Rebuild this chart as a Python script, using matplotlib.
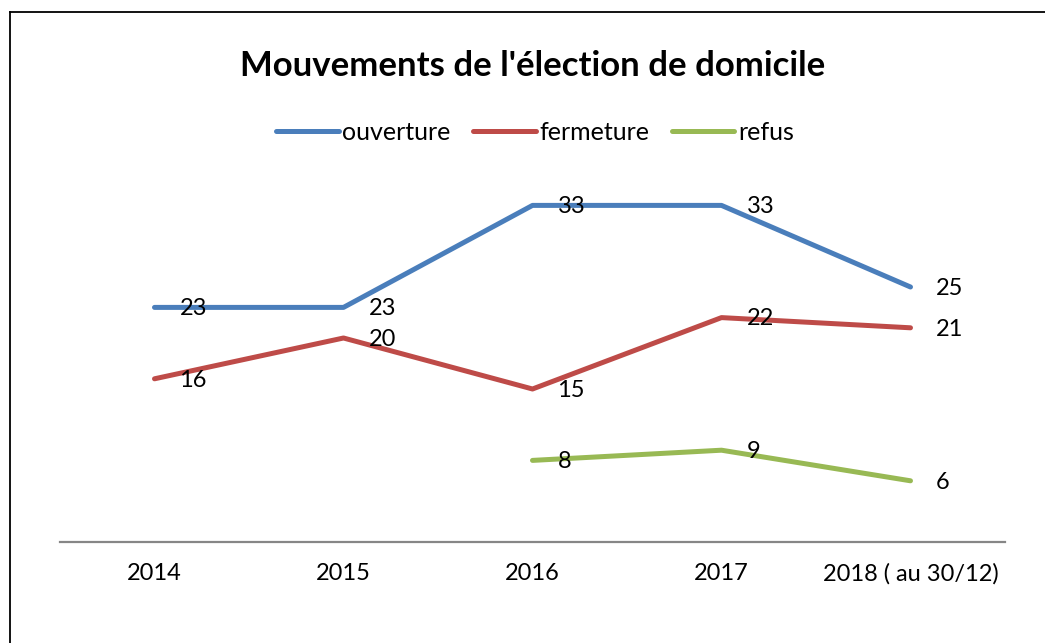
import numpy as np
import matplotlib.pyplot as plt
from matplotlib.lines import Line2D

plt.rcParams['font.family'] = ['Lato', 'DejaVu Sans']

# data
years = ['2014', '2015', '2016', '2017', '2018 ( au 30/12)']
ouverture = [23, 23, 33, 33, 25]
fermeture = [16, 20, 15, 22, 21]
refus = [np.nan, np.nan, 8, 9, 6]

series = [('ouverture', ouverture, '#4A7EBB'),
          ('fermeture', fermeture, '#BE4B48'),
          ('refus', refus, '#98B954')]

W, H = 1045, 643
fig = plt.figure(figsize=(W / 100, H / 100), dpi=100)
ax = fig.add_axes([60 / W, 1 - 542 / H, 945 / W, 357 / H])

x = np.arange(len(years))
for name, vals, col in series:
    ax.plot(x, vals, color=col, lw=3.6, solid_capstyle='round', label=name)
    for xi, v in zip(x, vals):
        if np.isnan(v):
            continue
        ax.annotate(str(v), (xi, v), xytext=(18, -1), textcoords='offset points',
                    ha='left', va='center', fontsize=17, color='black')

ax.set_xlim(-0.5, len(years) - 0.5)
ax.set_ylim(0, 35)
ax.set_xticks(x)
ax.set_xticklabels(years, fontsize=17)
ax.tick_params(axis='x', length=0, pad=15)
ax.set_yticks([])
for s in ['top', 'right', 'left']:
    ax.spines[s].set_visible(False)
ax.spines['bottom'].set_color('#868686')
ax.spines['bottom'].set_linewidth(1.6)

fig.text(0.510, 1 - 66 / H, "Mouvements de l'élection de domicile",
         ha='center', va='center', fontsize=25, fontweight='bold')

handles = [Line2D([0], [0], color=c, lw=3.6, solid_capstyle='round') for _, _, c in series]
fig.legend(handles, [n for n, _, _ in series], loc='center', ncol=3,
           bbox_to_anchor=(0.512, 1 - 132 / H), frameon=False, fontsize=18,
           handlelength=2.5, handletextpad=0.15, columnspacing=0.9)

# outer frame (left and top edges visible)
fig.add_artist(Line2D([10 / W, 10 / W], [0, 1 - 12 / H], color='black', lw=1.3,
                      transform=fig.transFigure))
fig.add_artist(Line2D([10 / W, 1], [1 - 12 / H, 1 - 12 / H], color='black', lw=1.3,
                      transform=fig.transFigure))

fig.savefig('out.png', dpi=100)
